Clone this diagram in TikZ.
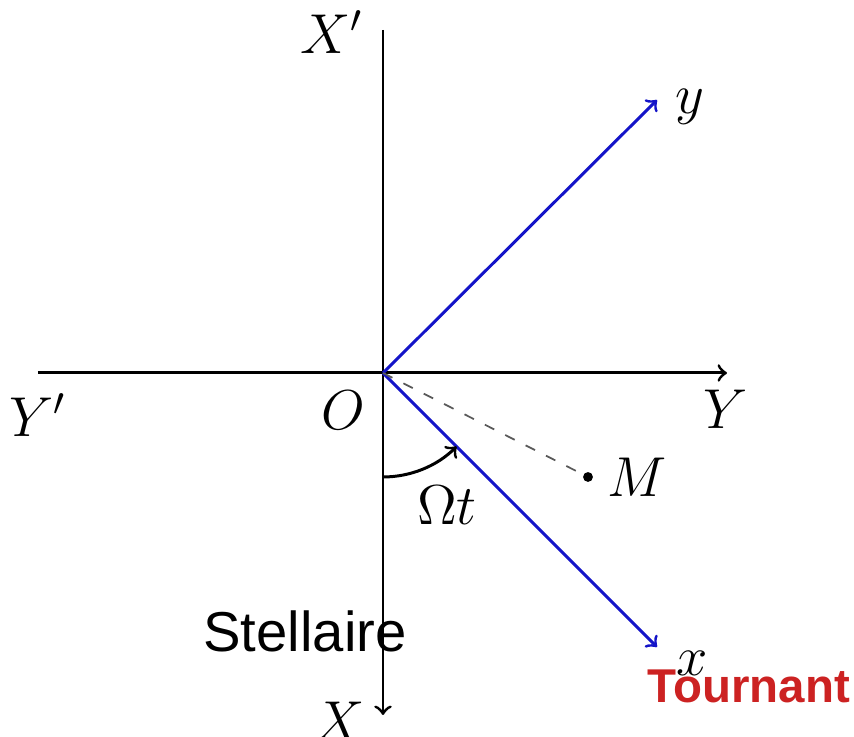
\RequirePackage{fix-cm}
\documentclass[tikz,border=0pt]{standalone}
\usepackage{fontspec}
\usepackage{tikz}
\usetikzlibrary{calc,positioning}
\newfontfamily\arialfont{Liberation Sans}
\definecolor{axeblue}{RGB}{20,20,200}
\definecolor{tourred}{RGB}{204,34,34}
\tikzset{>=to}
\tikzset{lab/.style={font=\fontsize{16}{19}\selectfont, inner sep=0pt}}

\begin{document}
\begin{tikzpicture}[line width=0.85pt]
  \useasboundingbox (-3.83,-3.64) rectangle (4.71,3.73);
  % fixed frame
  \coordinate (O) at (0,0);
  \coordinate (Xtop) at (0,3.43);
  \coordinate (Xbot) at (0,-3.42);
  \coordinate (Yleft) at (-3.45,0);
  \coordinate (Yright) at (3.44,0);
  \draw (Xtop) -- (O);
  \draw[->] (O) -- (Xbot);
  \draw (Yleft) -- (O);
  \draw[->] (O) -- (Yright);
  % rotating frame
  \coordinate (ytip) at (2.74,2.73);
  \coordinate (xtip) at (2.74,-2.74);
  \draw[->, axeblue] (O) -- (ytip);
  \draw[->, axeblue] (O) -- (xtip);
  % point M
  \coordinate (M) at (2.05,-1.04);
  \draw[black!65, line width=0.5pt, dash pattern=on 3pt off 3.5pt] (O) -- (M);
  \fill (M) circle (1.4pt);
  % angle
  \coordinate (A) at (0,-1.04);
  \draw[->] (A) arc[start angle=-90, end angle=-45, radius=1.04];
  % labels
  \node[lab] (Xplab) at (-0.51,3.41) {$X'$};
  \node[lab] (Xlab) at (-0.43,-3.48) {$X$};
  \node[lab] (Yplab) at (-3.45,-0.42) {$Y'$};
  \node[lab] (Ylab) at (3.43,-0.36) {$Y$};
  \node[lab] (Olab) at (-0.40,-0.37) {$O$};
  \node[lab] (ylab) at (3.07,2.66) {$y$};
  \node[lab] (xlab) at (3.09,-2.90) {$x$};
  \node[lab] (Mlab) at (2.54,-1.04) {$M$};
  \node[lab] (Wlab) at (0.64,-1.32) {$\Omega t$};
  \node[font=\arialfont\fontsize{16}{19}\selectfont, anchor=base, inner sep=0pt]
    (stel) at (-0.78,-2.79) {Stellaire};
  \node[font=\arialfont\bfseries\fontsize{13.5}{16}\selectfont, text=tourred,
    anchor=base, inner sep=0pt] (tour) at (3.66,-3.30) {Tournant};
\end{tikzpicture}
\end{document}
